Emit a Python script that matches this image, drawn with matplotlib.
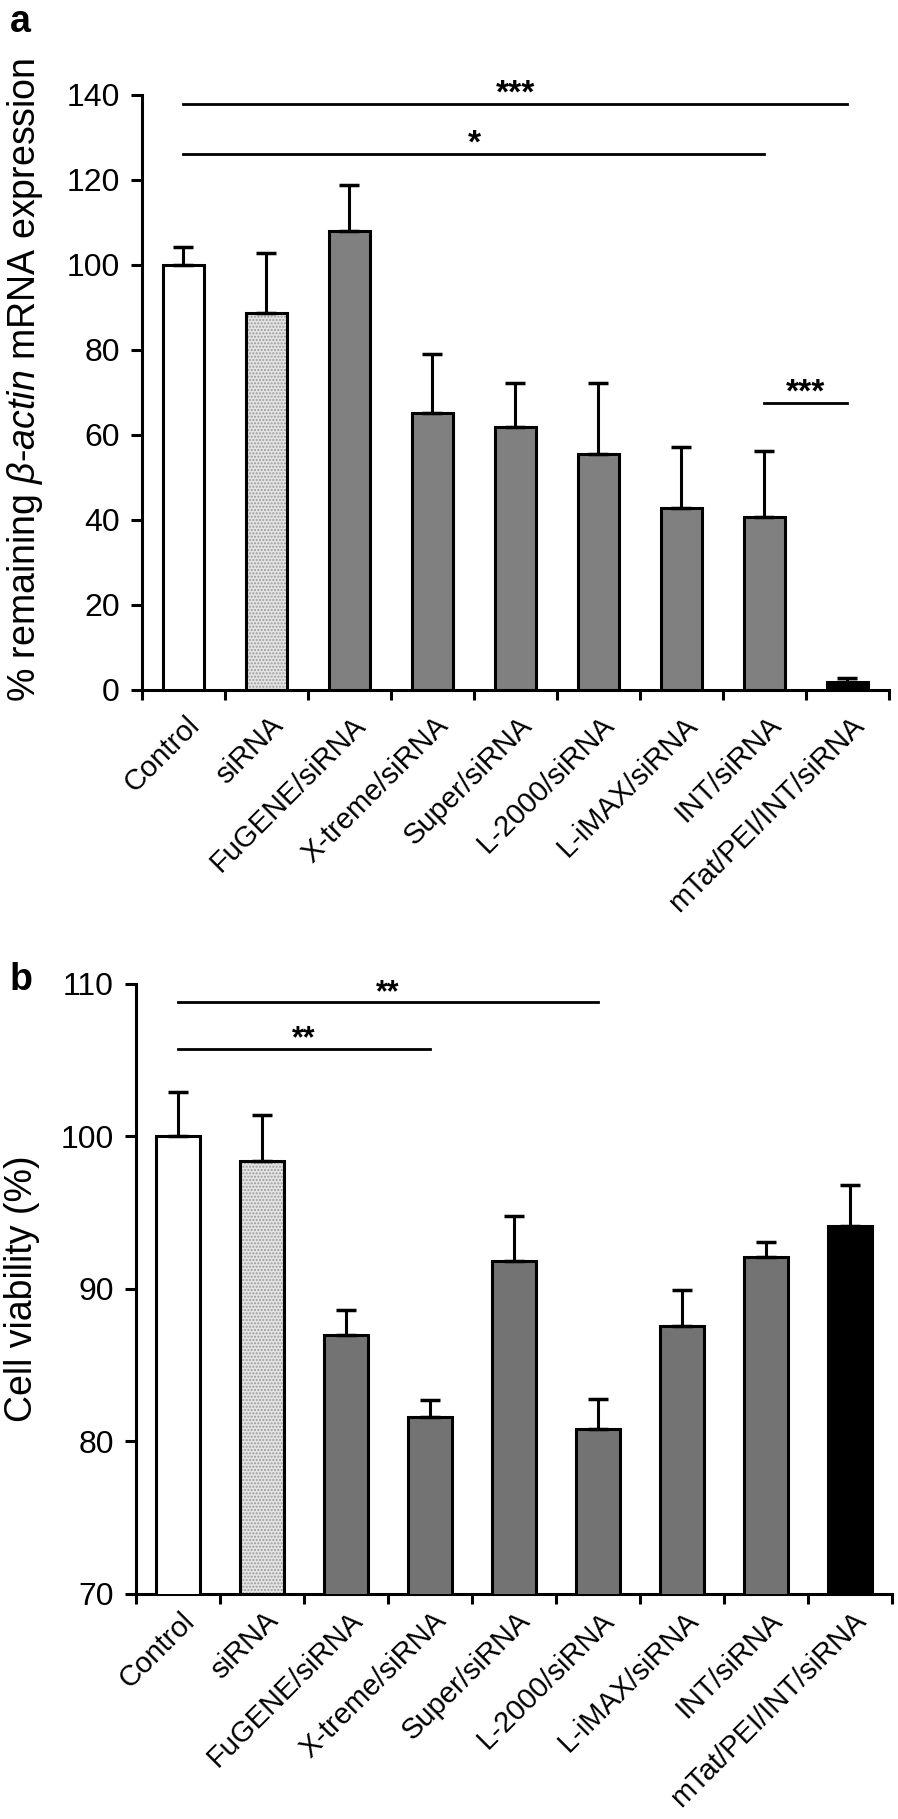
import matplotlib
matplotlib.use("Agg")
import matplotlib.pyplot as plt
import matplotlib.transforms as mtransforms
import numpy as np

plt.rcParams['font.family'] = ['Liberation Sans', 'DejaVu Sans']
plt.rcParams['mathtext.fontset'] = 'custom'
plt.rcParams['mathtext.rm'] = 'Liberation Sans'
plt.rcParams['mathtext.it'] = 'Liberation Sans:italic'

groups = ['Control', 'siRNA', 'FuGENE/siRNA', 'X-treme/siRNA', 'Super/siRNA',
          'L-2000/siRNA', 'L-iMAX/siRNA', 'INT/siRNA', 'mTat/PEI/INT/siRNA']

# panel a: remaining beta-actin mRNA (%)
mrna_mean = [100, 88.7, 108.0, 65.2, 61.9, 55.5, 42.8, 40.7, 1.9]
mrna_err = [4.2, 14.1, 10.8, 13.9, 10.3, 16.7, 14.4, 15.6, 1.0]

# panel b: cell viability (%)
viab_mean = [100, 98.4, 87.0, 81.6, 91.8, 80.8, 87.6, 92.1, 94.1]
viab_err = [2.9, 3.0, 1.6, 1.1, 3.0, 2.0, 2.3, 1.0, 2.7]

# significance brackets: (from, to, y, label)
sig_a = [(0, 8, 137.9, '***'), (0, 7, 126.1, '*'), (7, 8, 67.5, '***')]
sig_b = [(0, 5, 108.8, '**'), (0, 3, 105.75, '**')]

fig = plt.figure(figsize=(8.98, 18.19), dpi=100)
ax_a = fig.add_axes([0.1581, 0.6207, 0.8318, 0.3271])
ax_b = fig.add_axes([0.1514, 0.1237, 0.8419, 0.3354])

x = np.arange(len(groups))


def draw_panel(ax, means, errs, gray, width, last_color):
    fills = ['white', '#e4e4e4'] + [gray] * 6 + [last_color]
    for i in range(len(means)):
        if i == 1:
            # dotted light bar
            ax.bar(x[i], means[i], width, color=fills[i], edgecolor='#9a9a9a',
                   hatch='.....', linewidth=0, zorder=2)
            ax.bar(x[i], means[i], width, fill=False, edgecolor='black',
                   linewidth=2.2, zorder=3)
        else:
            ax.bar(x[i], means[i], width, color=fills[i], edgecolor='black',
                   linewidth=2.2, zorder=3)
    ax.errorbar(x, means, yerr=[np.zeros(len(errs)), errs], fmt='none',
                ecolor='black', elinewidth=2.2, capsize=7, capthick=2.5, zorder=4)
    ax.spines['top'].set_visible(False)
    ax.spines['right'].set_visible(False)
    ax.spines['left'].set_linewidth(2.2)
    ax.spines['bottom'].set_linewidth(2.2)
    ax.set_xlim(-0.5, len(groups) - 0.5)
    ax.set_xticks(np.arange(-0.5, len(groups), 1.0))
    ax.set_xticklabels([])
    ax.set_xticks(x, minor=True)
    ax.tick_params(axis='x', which='major', direction='out', length=7, width=2.2)
    ax.tick_params(axis='y', which='major', direction='out', length=8, width=2.2,
                   labelsize=23, pad=8)


def bracket(ax, i0, i1, y, label, size):
    ax.plot([x[i0], x[i1]], [y, y], color='black', lw=2, clip_on=False)
    ax.annotate(label, xy=((x[i0] + x[i1]) / 2, y), xytext=(0, 1),
                textcoords='offset points', ha='center', va='baseline',
                fontsize=size, fontweight='bold', annotation_clip=False)


def set_labels(ax, pad, dx):
    ax.set_xticklabels(groups, minor=True, rotation=45, ha='right', va='top',
                       rotation_mode='anchor', fontsize=21)
    ax.tick_params(axis='x', which='minor', length=0, pad=pad)
    off = mtransforms.ScaledTranslation(dx / 100, 0, fig.dpi_scale_trans)
    for lab in ax.get_xticklabels(minor=True):
        lab.set_transform(lab.get_transform() + off)


draw_panel(ax_a, mrna_mean, mrna_err, '#808080', 0.5, 'black')
ax_a.set_ylim(0, 140)
ax_a.set_yticks(range(0, 141, 20))
set_labels(ax_a, 15, 2)
for i0, i1, y, lab in sig_a:
    bracket(ax_a, i0, i1, y, lab, 24)

draw_panel(ax_b, viab_mean, viab_err, '#737373', 0.52, 'black')
ax_b.set_ylim(70, 110)
ax_b.set_yticks(range(70, 111, 10))
set_labels(ax_b, 9, 2)
for i0, i1, y, lab in sig_b:
    bracket(ax_b, i0, i1, y, lab, 22)

fig.text(25 / 898, 1 - 380 / 1819,
         r'% remaining $\mathit{\beta}$-$\mathit{actin}$ mRNA expression',
         rotation=90, ha='center', va='center', fontsize=27)
fig.text(22 / 898, 1 - 1289 / 1819, 'Cell viability (%)',
         rotation=90, ha='center', va='center', fontsize=27)

fig.text(10 / 898, 1 - 4 / 1819, 'a', fontsize=27, fontweight='bold',
         ha='left', va='top')
fig.text(10 / 898, 1 - 962 / 1819, 'b', fontsize=27, fontweight='bold',
         ha='left', va='top')

fig.savefig('out.png', dpi=100)
